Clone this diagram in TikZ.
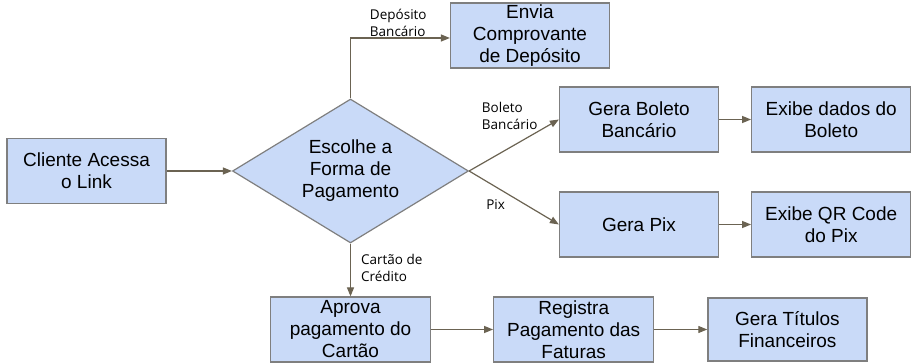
\documentclass[tikz,border=0pt]{standalone}
\usepackage{fontspec}
\setmainfont{Liberation Sans}
\newfontfamily\labelfont{Open Sans}
\usetikzlibrary{arrows.meta,positioning,shapes.geometric}
\definecolor{boxfill}{HTML}{C9DAF8}
\definecolor{boxline}{HTML}{7F7F7F}
\definecolor{linkc}{HTML}{6B6352}

\begin{document}
\begin{tikzpicture}[x=1pt,y=-1pt,
  node distance=32pt,
  box/.style={draw=boxline,fill=boxfill,line width=1.2pt,minimum width=159pt,minimum height=65pt,align=center,inner sep=1pt,font=\fontsize{19}{22}\selectfont},
  choice/.style={box,diamond,aspect=1.64,minimum width=236pt,minimum height=144pt,inner sep=0pt},
  flow/.style={draw=linkc,line width=1.2pt,-{Triangle[length=9pt,width=7pt]}},
  tag/.style={font=\labelfont\fontsize{13.5}{17}\selectfont,align=left,inner sep=1pt}
]
  \useasboundingbox (0,0) rectangle (913,363);

  \node[box] (cliente) at (86.5,171) {Cliente Acessa\\o Link};
  \node[choice] (escolhe) at (350.5,171) {Escolhe a\\Forma de\\Pagamento};
  \node[box] (envia) at (530,35.5) {Envia\\Comprovante\\de Depósito};
  \node[box] (boleto) at (639,119.5) {Gera Boleto\\Bancário};
  \node[box,right=of boleto] (dadosboleto) {Exibe dados do\\Boleto};
  \node[box] (pix) at (639,224.5) {Gera Pix};
  \node[box,right=of pix] (qrcode) {Exibe QR Code\\do Pix};
  \node[box,minimum width=160pt] (aprova) at (350.5,329.5) {Aprova\\pagamento do\\Cartão};
  \node[box,minimum width=160pt,right=62pt of aprova] (registra) {Registra\\Pagamento das\\Faturas};
  \node[box,minimum height=63pt,right=53pt of registra] (titulos) {Gera Títulos\\Financeiros};

  \draw[flow] (cliente) -- (escolhe);
  \draw[flow] (escolhe.north) |- node[tag,pos=0.59,anchor=south west]{Depósito\\Bancário} ([yshift=-2.5pt]envia.west);
  \draw[flow] (escolhe.east) -- node[tag,pos=0.78,anchor=south east]{Boleto\\Bancário} (boleto.west);
  \draw[flow] (escolhe.east) -- node[tag,pos=0.45,anchor=north east,inner sep=4pt]{Pix} (pix.west);
  \draw[flow] (escolhe.south) -- node[tag,pos=0.46,anchor=west,xshift=9pt]{Cartão de\\Crédito} (aprova.north);
  \draw[flow] (boleto) -- (dadosboleto);
  \draw[flow] (pix) -- (qrcode);
  \draw[flow] (aprova) -- (registra);
  \draw[flow] (registra) -- (titulos);
\end{tikzpicture}
\end{document}
